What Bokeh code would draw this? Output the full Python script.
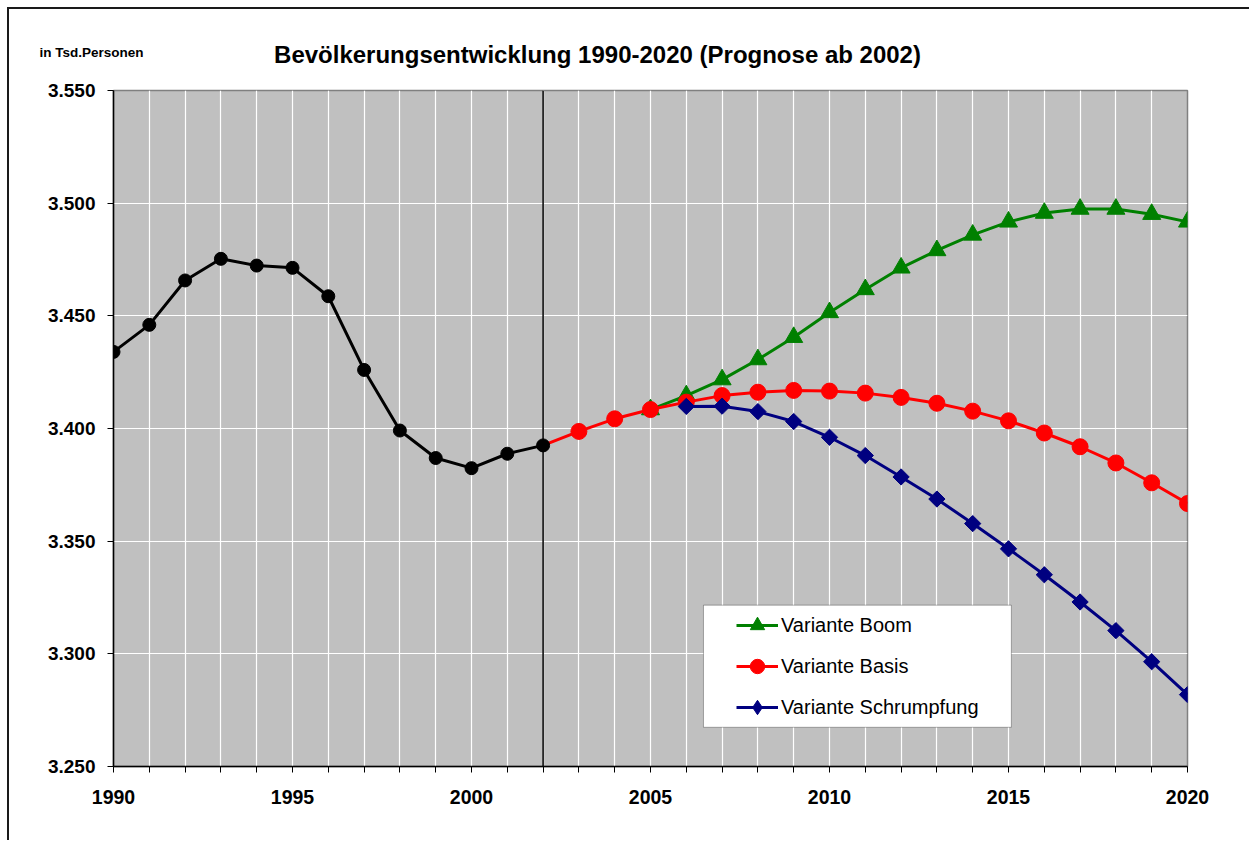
from bokeh.plotting import figure
from bokeh.layouts import column
from bokeh.models import (Range1d, FixedTicker, Span, Label, Legend, LegendItem,
                          BoxAnnotation)
from bokeh.embed import file_html
from bokeh.resources import INLINE
import math

# ---------------- data (in Tsd. Personen) ----------------
years_hist = list(range(1990, 2003))
values_hist = [3434.0, 3446.0, 3465.7, 3475.3, 3472.3, 3471.3, 3458.7,
               3426.0, 3399.1, 3386.9, 3382.4, 3388.8, 3392.5]

years_basis = list(range(2002, 2021))
values_basis = [3392.5, 3398.7, 3404.3, 3408.4, 3411.7, 3414.6, 3416.1,
                3416.9, 3416.6, 3415.7, 3413.8, 3411.2, 3407.7, 3403.4,
                3398.0, 3391.9, 3384.7, 3375.9, 3366.7]

years_boom = list(range(2005, 2021))
values_boom = [3408.4, 3414.6, 3421.7, 3430.6, 3440.5, 3451.5, 3461.7,
               3471.3, 3479.0, 3485.9, 3491.7, 3495.6, 3497.4, 3497.4,
               3495.1, 3491.7]

years_schrumpf = list(range(2006, 2021))
values_schrumpf = [3409.8, 3409.9, 3407.5, 3403.1, 3396.1, 3388.0, 3378.5,
                   3368.7, 3357.8, 3346.6, 3335.1, 3323.0, 3310.3, 3296.5,
                   3281.9]

series_names = ["Variante Boom", "Variante Basis", "Variante Schrumpfung"]

x_ticks = list(range(1990, 2021))
x_tick_labels = ["1990", "1995", "2000", "2005", "2010", "2015", "2020"]
y_ticks = [3250, 3300, 3350, 3400, 3450, 3500, 3550]
y_tick_labels = ["3.250", "3.300", "3.350", "3.400", "3.450", "3.500", "3.550"]

title_text = "Bevölkerungsentwicklung 1990-2020 (Prognose ab 2002)"
unit_text = "in Tsd.Personen"
prognose_start = 2002

FONT = "Liberation Sans"
W = 1240
HEADER_H = 60
LEFT_B = 104
RIGHT_B = 62

# ---------------- header (title texts), ranges are page pixels ----------------
h = figure(width=W, height=HEADER_H, output_backend="svg", toolbar_location=None,
           x_range=Range1d(9, 9 + W), y_range=Range1d(9 + HEADER_H, 9),
           x_axis_type=None, y_axis_type=None,
           min_border_left=0, min_border_right=0,
           min_border_top=0, min_border_bottom=0)
h.grid.visible = False
h.outline_line_color = None
h.background_fill_color = "white"
h.border_fill_color = "white"
h.add_layout(Label(x=597, y=54, text=title_text, text_font=FONT,
                   text_font_size="24px", text_font_style="bold",
                   text_align="center", text_baseline="middle", text_color="black"))
h.add_layout(Label(x=39, y=52, text=unit_text, text_font=FONT,
                   text_font_size="13.5px", text_font_style="bold",
                   text_align="left", text_baseline="middle", text_color="black"))

# ---------------- main figure ----------------
p = figure(width=W, height=771, output_backend="svg", toolbar_location=None,
           x_range=Range1d(1990, 2020), y_range=Range1d(3250, 3550),
           min_border_left=LEFT_B, min_border_right=RIGHT_B,
           min_border_top=21, min_border_bottom=74)

for fig in (h, p):
    if "frame_align" in fig.properties():
        fig.frame_align = False

p.background_fill_color = "#C0C0C0"
p.border_fill_color = "white"
p.outline_line_color = "#808080"
p.outline_line_width = 1.5

labeled = {int(s): s for s in x_tick_labels}
p.xaxis.ticker = FixedTicker(ticks=x_ticks)
p.xaxis.major_label_overrides = {t: labeled.get(t, "") for t in x_ticks}
p.yaxis.ticker = FixedTicker(ticks=y_ticks)
p.yaxis.major_label_overrides = dict(zip(y_ticks, y_tick_labels))

for ax in (p.xaxis[0], p.yaxis[0]):
    ax.axis_line_color = "black"
    ax.axis_line_width = 1.5
    ax.major_tick_line_color = "black"
    ax.major_tick_line_width = 1
    ax.major_tick_in = 0
    ax.major_tick_out = 6
    ax.minor_tick_line_color = None
    ax.major_label_text_font = FONT
    ax.major_label_text_font_style = "bold"
    ax.major_label_text_color = "black"
p.xaxis.major_label_text_font_size = "19.5px"
p.yaxis.major_label_text_font_size = "19px"
p.xaxis.major_label_standoff = 17
p.yaxis.major_label_standoff = 12

p.xgrid.grid_line_color = "white"
p.xgrid.grid_line_width = 1.2
p.ygrid.grid_line_color = "white"
p.ygrid.grid_line_width = 1.2

vline = Span(location=prognose_start, dimension="height", line_color="black",
             line_width=1.5, level="underlay")
p.add_layout(vline)

# ---------------- series ----------------
g_line = p.line(years_boom, values_boom, line_color="#008000", line_width=3)
g_pts = p.scatter(years_boom, values_boom, marker="triangle", size=18,
                  fill_color="#008000", line_color="#008000")

r_line = p.line(years_basis, values_basis, line_color="#FF0000", line_width=3)
r_pts = p.scatter(years_basis[1:], values_basis[1:], marker="circle", size=16,
                  fill_color="#FF0000", line_color="#FF0000")

b_line = p.line(years_schrumpf, values_schrumpf, line_color="#000080", line_width=3)
# diamond symbols (used by the legend; covered by the rotated squares below)
b_key = p.scatter(years_schrumpf, values_schrumpf, marker="diamond", size=14,
                  fill_color="#000080", line_color="#000080")
b_pts = p.scatter(years_schrumpf, values_schrumpf, marker="square", size=11.5,
                  angle=math.pi / 4, fill_color="#000080", line_color="#000080")

k_line = p.line(years_hist, values_hist, line_color="black", line_width=3)
k_pts = p.scatter(years_hist, values_hist, marker="circle", size=13,
                  fill_color="black", line_color="black")

# ---------------- legend ----------------
legend_box = BoxAnnotation(left=2006.48, right=2015.08, bottom=3267.4, top=3321.6,
                           fill_color="white", fill_alpha=1.0,
                           line_color="black", line_width=1)
p.add_layout(legend_box)

legend = Legend(items=[
    LegendItem(label=series_names[0], renderers=[g_line, g_pts]),
    LegendItem(label=series_names[1], renderers=[r_line, r_pts]),
    LegendItem(label=series_names[2], renderers=[b_line, b_key]),
], location=(623, 41))
legend.padding = 0
legend.margin = 0
legend.spacing = 5
legend.glyph_width = 42
legend.glyph_height = 36
legend.label_height = 36
legend.label_standoff = 3
legend.label_text_font = FONT
legend.label_text_font_size = "20px"
legend.label_text_color = "black"
legend.border_line_color = None
legend.background_fill_alpha = 0
p.add_layout(legend, "center")

layout = column(h, p, spacing=0,
                styles={"border-top": "2px solid #1a1a1a",
                        "border-left": "2px solid #1a1a1a",
                        "margin-left": "7px", "margin-top": "7px"})

open("out.html", "w").write(file_html(layout, INLINE))
